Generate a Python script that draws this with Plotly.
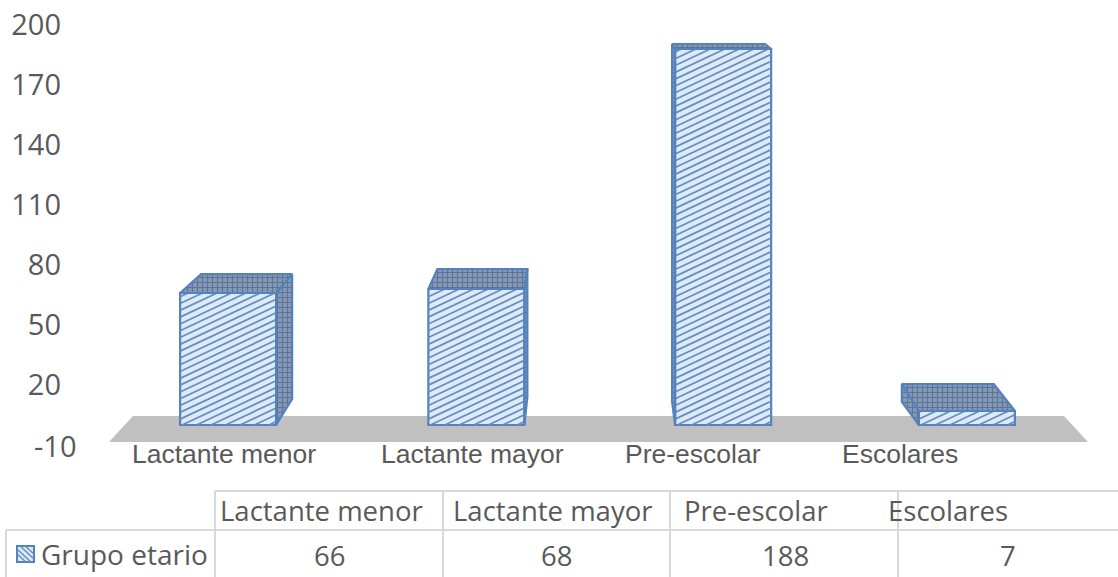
import plotly.graph_objects as go

# ---- data ----
categories = ["Lactante menor", "Lactante mayor", "Pre-escolar", "Escolares"]
values = [66, 68, 188, 7]
series_name = "Grupo etario"
y_ticks = [-10, 20, 50, 80, 110, 140, 170, 200]

# ---- layout (pixels of the 1118x577 page) ----
W, H = 1118, 577
L, R, T, B = 105, 1090, 25, 445
CAT_PX = (R - L) / len(categories)
UNIT_PX = (B - T) / 210
BAR_W = 0.39
nudge_px = [0, 2, 2.5, 0]


def dx(px):
    return px / CAT_PX


def xd(px):
    return (px - L) / CAT_PX - 0.5


def yd(px):
    return (B - px) / UNIT_PX - 10


def xp(px):
    return (px - L) / (R - L)


def yp(px):
    return (B - px) / (B - T)


# 3-D extrusion of each column, pixels: back-left shift, back-right shift, top rise, foot rise
depth = [(21, 16, 19, 26), (9, 3, 20, 28), (-3, -6, 5, 23), (-17, -21, 27, 23)]

LINE = "#5482bf"
TEXT = "#595959"
GRID = "#d9d9d9"
top_pat = dict(shape="+", bgcolor="#8198b9", fgcolor="#3f4f66", size=5, solidity=0.4)

fig = go.Figure()
fig.add_bar(
    x=list(range(4)), y=values, width=BAR_W, offset=[dx(n) - BAR_W / 2 for n in nudge_px], name=series_name,
    marker=dict(color="#dcebf9", line=dict(color=LINE, width=2.2)), showlegend=False,
)

# slanted hatch of the front faces
hx, hy = [], []
SLOPE, STEP = 0.47, 6.8
for i, v in enumerate(values):
    x0 = i - BAR_W / 2 + dx(nudge_px[i])
    w = BAR_W * CAT_PX
    ph = v * UNIT_PX
    c = -SLOPE * w + STEP / 2
    while c < ph:
        # line rises c + SLOPE*t pixels above the foot at t pixels from the left
        t0 = max(0, -c / SLOPE)
        t1 = min(w, (ph - c) / SLOPE)
        if t1 > t0:
            hx += [x0 + dx(t0), x0 + dx(t1), None]
            hy += [(c + SLOPE * t0) / UNIT_PX, (c + SLOPE * t1) / UNIT_PX, None]
        c += STEP
fig.add_scatter(x=hx, y=hy, mode="lines", line=dict(color="#6a8cbe", width=1.8),
                hoverinfo="skip", showlegend=False)

# top and side faces
for i, v in enumerate(values):
    x0 = i - BAR_W / 2 + dx(nudge_px[i])
    x1 = x0 + BAR_W
    bl, br, rise, foot = depth[i]
    top_x = [x0, x0 + dx(bl), x1 + dx(br), x1, x0]
    top_y = [v, v + rise / UNIT_PX, v + rise / UNIT_PX, v, v]
    if br > 0:
        ex, sh = x1, br
    else:
        ex, sh = x0, bl
    side_x = [ex, ex + dx(sh), ex + dx(sh), ex, ex]
    side_y = [v, v + rise / UNIT_PX, foot / UNIT_PX, 0, v]
    for px_, py_ in ((side_x, side_y), (top_x, top_y)):
        fig.add_scatter(x=px_, y=py_, mode="lines", fill="toself",
                        fillcolor="#8198b9", fillpattern=top_pat,
                        line=dict(color=LINE, width=2.2),
                        hoverinfo="skip", showlegend=False, cliponaxis=False)

shapes = [
    # floor
    dict(type="path", layer="below", xref="x", yref="y", line=dict(width=0), fillcolor="#c0c0c0",
         path=f"M{xd(109)},{yd(442)} L{xd(133)},{yd(416)} L{xd(1064)},{yd(416)} L{xd(1088)},{yd(442)} Z"),
]

# data table grid
columns = [215, 443, 670, 898]
for yy, a, b in ((491, 215, 1118), (530, 6, 1118)):
    shapes.append(dict(type="line", xref="paper", yref="paper", x0=xp(a), x1=xp(b), y0=yp(yy), y1=yp(yy),
                       line=dict(color=GRID, width=2)))
for xx, a, b in [(6, 530, 577)] + [(c, 491, 577) for c in columns]:
    shapes.append(dict(type="line", xref="paper", yref="paper", x0=xp(xx), x1=xp(xx), y0=yp(a), y1=yp(b),
                       line=dict(color=GRID, width=2)))

# legend key
shapes.append(dict(type="rect", xref="paper", yref="paper", x0=xp(17), x1=xp(34), y0=yp(546), y1=yp(562),
                   fillcolor="#dcebf9", line=dict(color=LINE, width=2)))
for k in (-8, -3, 3, 8):
    a = (17, 546 - k) if k < 0 else (17 + k, 546)
    b = (34 + k, 562) if k < 0 else (34, 562 - k)
    shapes.append(dict(type="line", xref="paper", yref="paper", x0=xp(a[0]), x1=xp(b[0]), y0=yp(a[1]),
                       y1=yp(b[1]), line=dict(color="#6a8cbe", width=1.5)))

annotations = []


def label(text, x, y, size, family, anchor="left", xref="paper", yref="paper"):
    annotations.append(dict(text=text, x=x, y=y, xref=xref, yref=yref, xanchor=anchor, yanchor="middle",
                            showarrow=False, font=dict(size=size, family=family, color=TEXT)))


OPEN = "Open Sans, Noto Sans, sans-serif"
ARIAL = "Liberation Sans, Arial, sans-serif"

# axis bottom label sits further right than the others in the reference
label(str(y_ticks[0]), xp(79), y_ticks[0], 29, OPEN, "right", yref="y")

# category labels under the floor
for name, x in zip(categories, (130, 379, 623, 840)):
    label(name, xp(x), yp(454), 26.5, ARIAL)

# table
for name, x in zip(categories, (218, 451, 682, 886)):
    label(name, xp(x), yp(511), 27.5, OPEN)
label(series_name, xp(39), yp(554), 28, OPEN)
for val, x in zip(values, (329, 556, 785, 1008)):
    label(str(val), xp(x), yp(555), 27.5, OPEN, "center")

fig.update_layout(
    width=W, height=H, autosize=False,
    margin=dict(l=L, r=W - R, t=T, b=H - B, pad=0, autoexpand=False),
    paper_bgcolor="white", plot_bgcolor="white",
    shapes=shapes, annotations=annotations, showlegend=False, font=dict(family=OPEN, color=TEXT),
    xaxis=dict(range=[-0.5, 3.5], showgrid=False, zeroline=False, showline=False, showticklabels=False,
               ticks="", fixedrange=True, automargin=False),
    yaxis=dict(range=[-10, 200], tickvals=y_ticks[1:], showgrid=False, zeroline=False, showline=False,
               ticks="", ticklabelstandoff=43, tickfont=dict(size=29, family=OPEN, color=TEXT), fixedrange=True,
               automargin=False),
)
fig.write_html("out.html", config={"displayModeBar": False},
               post_script="document.body.style.margin='0';document.documentElement.style.overflow='hidden';")
